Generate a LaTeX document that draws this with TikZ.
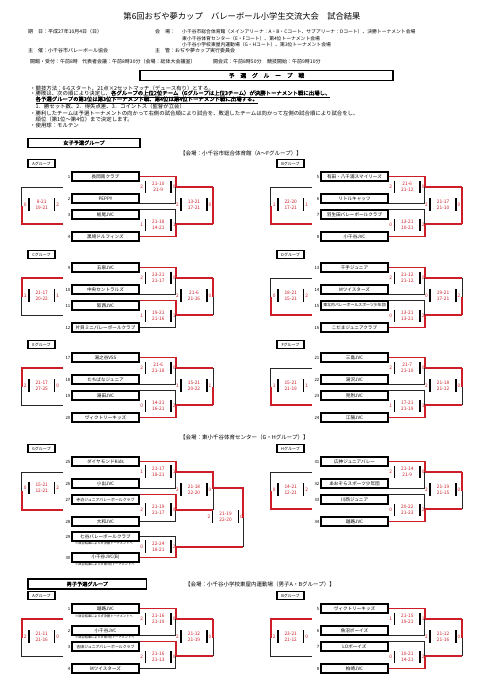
\documentclass[tikz,border=0pt]{standalone}
\usepackage{fontspec}
\setmainfont{Noto Sans CJK JP}[AutoFakeBold=1.5]
\usetikzlibrary{positioning}
\definecolor{rd}{RGB}{205,30,40}

\newcommand\fsz[1]{\fontsize{#1}{#1}\selectfont}
\newcommand\sm[1]{{\fsz{3.9}#1}}

% bracket pieces: prefix, style
\newcommand\sgua[2]{\draw[#2] (#11.east) -| (#1-m1);}
\newcommand\sgub[2]{\draw[#2] (#12.south east) -| (#1-m1);}
\newcommand\sgja[2]{\draw[#2] (#1-m1) -- (#1-f1);}
\newcommand\sglc[2]{\draw[#2] (#13.north east) -| (#1-m2);}
\newcommand\sgld[2]{\draw[#2] (#14.east) -| (#1-m2);}
\newcommand\sgjb[2]{\draw[#2] (#1-m2) -- (#1-f2);}
\newcommand\sgfu[2]{\draw[#2] (#1-f1) -- (#1-fm);}
\newcommand\sgfl[2]{\draw[#2] (#1-f2) -- (#1-fm);}
\newcommand\sglu[2]{\draw[#2] (#1-l1) -| (#1-lm);}
\newcommand\sgll[2]{\draw[#2] (#1-l2) -| (#1-lm);}
\newcommand\bracket[2]{%
  \foreach \s in {ua,ub,ja,lc,ld,jb,fu,fl,lu,ll}{\csname sg\s\endcsname{#1}{ln}}%
  \foreach \s in {#2}{\csname sg\s\endcsname{#1}{win}}}

% one group of four: prefix, label, first number, teams
\newcommand\grpfour[7]{%
  \node[grplbl] (#1lb) at (41.5,-8.5) {#2};
  \node[team] (#11) at (105.5,4.5) {#4};
  \node[team] (#12) at (105.5,26.5) {#5};
  \node[team] (#13) at (105.5,42.5) {#6};
  \node[team] (#14) at (105.5,64.5) {#7};
  \foreach \i/\y in {1/4.5,2/26.5,3/42.5,4/64.5}
    \node[num] (#1n\i) at (70.5,\y) {\number\numexpr#3+\i-1\relax};
  \coordinate (#1-m1) at (175.7,15);
  \coordinate (#1-m2) at (175.7,52);
  \coordinate (#1-f1) at (213.3,15);
  \coordinate (#1-f2) at (213.3,52);
  \coordinate (#1-fm) at (213.3,33.5);
  \coordinate (#1-l1) at (63,15);
  \coordinate (#1-l2) at (63,52);
  \coordinate (#1-lm) at (21.7,33.5);
}

% scores: name, x, y, set 1, set 2, left count, right count
\newcommand\res[7]{%
  \node[sc] (#1) at (#2,#3) {#4\\#5};
  \node[sc] (#1l) at ([xshift=-16.5pt]#1.center) {#6};
  \node[sc] (#1r) at ([xshift=16pt]#1.center) {#7};
  \draw[bar] (#1.center) ++(-12.8,-6.3) -- ++(0,12.6);
  \draw[bar] (#1.center) ++(12.8,-6.3) -- ++(0,12.6);}

\begin{document}
\begin{tikzpicture}[x=1pt, y=-1pt,
    team/.style={draw, line width=1.3pt, minimum width=67pt, minimum height=9pt,
                 inner sep=0pt, font=\fsz{4.6}},
    num/.style={anchor=east, inner sep=0pt, font=\fsz{4.3}},
    grplbl/.style={draw, line width=1.4pt, minimum width=27pt, minimum height=8pt,
                   inner sep=0pt, font=\fsz{4}},
    ln/.style={line width=0.9pt, draw=black!85},
    win/.style={draw=rd, line width=1.7pt},
    bar/.style={line width=1.5pt},
    sc/.style={text=rd, font=\fontsize{4.8}{6}\selectfont, align=center, inner sep=0pt},
    note/.style={anchor=west, inner sep=0pt, font=\fsz{3.2}},
    txt/.style={anchor=west, inner sep=0pt, font=\fsz{5}},
    rule/.style={anchor=west, inner sep=0pt, font=\fsz{5.4}},
    hbox/.style={draw, line width=1.3pt, inner sep=0pt, font=\bfseries\fsz{5.2}}
]
    \fill[white] (0,0) rectangle (480,685);
    \useasboundingbox (0,0) rectangle (480,685);

    % header
    \node[font=\fsz{8.3}] (title) at (242,16) {第6回おぢや夢カップ　バレーボール小学生交流大会　試合結果};
    \node[txt] (date) at (28,32) {期　日：平成27年10月4日（日）};
    \node[txt] (venue) at (155,32) {会　場：};
    \node[txt, font=\fsz{4.8}] (v1) at (182,32) {小千谷市総合体育館（メインアリーナ：A・B・Cコート、サブアリーナ：Dコート）、決勝トーナメント会場};
    \node[txt, font=\fsz{4.8}] (v2) at (182,38.5) {東小千谷体育センター（E・Fコート）、第4位トーナメント会場};
    \node[txt, font=\fsz{4.8}] (v3) at (182,45) {小千谷小学校東屋内運動場（G・Hコート）、第3位トーナメント会場};
    \node[txt] (host) at (28,51) {主　催：小千谷市バレーボール協会};
    \node[txt] (org) at (155,51) {主　管：おぢや夢カップ実行委員会};
    \node[txt] (open) at (30,61.5) {開館・受付：午前8時};
    \node[txt] (meet) at (82,61.5) {代表者会議：午前8時30分（会場：総体大会議室）};
    \node[txt] (cer) at (213,61.5) {開会式：午前8時50分};
    \node[txt] (start) at (267,61.5) {競技開始：午前9時10分};

    \node[hbox, minimum width=253pt, minimum height=10pt, font=\bfseries\fsz{5.8}] (prelim) at (266.5,75.5) {予　選　グ　ル　ー　プ　戦};

    % rules
    \node[rule] (r1) at (30,88) {・競技方法：6-6スタート、21点×2セットマッチ（デュース有り）とする。};
    \node[rule] (r2) at (30,94) {・勝敗は、次の順により決定し、\underline{\textbf{各グループの上位2位チーム（Gグループは上位3チーム）が決勝トーナメント戦に出場し、}}};
    \node[rule] (r3) at (30,100) {\phantom{・}\underline{\textbf{各予選グループの第3位は第3位トーナメント戦、第4位は第4位トーナメント戦に出場する。}}};
    \node[rule] (r4) at (30,106) {　1．勝セット数、2．得失点差、3．コイントス（監督が立会）};
    \node[rule] (r5) at (30,113.5) {・勝利したチームは予選トーナメントの向かって右側の試合順により試合を、敗退したチームは向かって左側の試合順により試合をし、};
    \node[rule] (r6) at (30,119.5) {　順位（第1位～第4位）まで決定します。};
    \node[rule] (r7) at (30,125.5) {・使用球：モルテン};

    % girls
    \node[hbox, minimum width=112pt, minimum height=9pt] (girls) at (84,142.8) {女子予選グループ};
    \node[txt, font=\fsz{5.5}] (gv1) at (180,153) {【会場：小千谷市総合体育館（A～Fグループ）】};

    \begin{scope}[shift={(0,172)}]
        \grpfour{A}{Aグループ}{1}{長岡南クラブ}{PEPPY}{栃尾JVC}{黒埼ドルフィンズ}
        \res{Aa}{158.3}{15}{21-10}{21-9}{2}{0}
        \res{Ab}{158.3}{53}{21-18}{14-21}{1}{1}
        \res{Af}{194}{32.5}{13-21}{17-21}{2}{0}
        \res{Al}{41.7}{32.5}{8-21}{19-21}{0}{2}
        \bracket{A}{ua,ja,ld,jb,fu,fl,ll}
    \end{scope}
    \begin{scope}[shift={(249,172)}]
        \grpfour{B}{Bグループ}{5}{有田・八千浦スマイリーズ}{リトルキャッツ}{羽生田バレーボールクラブ}{小千谷JVC}
        \res{Ba}{158.3}{15}{21-6}{21-12}{2}{0}
        \res{Bb}{158.3}{53}{13-21}{10-21}{0}{2}
        \res{Bf}{194}{32.5}{21-17}{21-10}{2}{0}
        \res{Bl}{41.7}{32.5}{22-20}{17-21}{1}{1}
        \bracket{B}{ua,ja,ld,jb,fu,fl,ll}
    \end{scope}
    \begin{scope}[shift={(0,263)}]
        \grpfour{C}{Cグループ}{9}{五泉JVC}{中央セントラルズ}{阪西JVC}{片貝ミニバレーボールクラブ}
        \res{Ca}{158.3}{15}{23-21}{21-17}{2}{0}
        \res{Cb}{158.3}{53}{19-21}{21-16}{1}{1}
        \res{Cf}{194}{32.5}{21-6}{21-16}{2}{0}
        \res{Cl}{41.7}{32.5}{21-17}{20-22}{1}{1}
        \bracket{C}{ua,ja,lc,jb,fu,lu}
    \end{scope}
    \begin{scope}[shift={(249,263)}]
        \grpfour{D}{Dグループ}{13}{千手ジュニア}{Mツイスターズ}{\sm{東北内バレーボールスポーツ少年団}}{こだまジュニアクラブ}
        \res{Da}{158.3}{15}{21-12}{21-12}{2}{0}
        \res{Db}{158.3}{53}{13-21}{13-21}{0}{2}
        \res{Df}{194}{32.5}{19-21}{17-21}{0}{2}
        \res{Dl}{41.7}{32.5}{18-21}{15-21}{0}{2}
        \bracket{D}{ua,ja,ld,jb,fl,ll}
    \end{scope}
    \begin{scope}[shift={(0,353)}]
        \grpfour{E}{Eグループ}{17}{湯之谷VSS}{たちばなジュニア}{湯田JVC}{ヴィクトリーキッズ}
        \res{Ea}{158.3}{15}{21-6}{21-18}{2}{0}
        \res{Eb}{158.3}{53}{14-21}{16-21}{0}{2}
        \res{Ef}{194}{32.5}{15-21}{20-22}{1}{1}
        \res{El}{41.7}{32.5}{21-17}{27-25}{2}{0}
        \bracket{E}{ua,ja,ld,jb,fl,lu}
    \end{scope}
    \begin{scope}[shift={(249,353)}]
        \grpfour{F}{Fグループ}{21}{三島JVC}{湯沢JVC}{見附JVC}{江陽JVC}
        \res{Fa}{158.3}{15}{21-7}{21-10}{2}{0}
        \res{Fb}{158.3}{53}{17-21}{21-19}{1}{1}
        \res{Ff}{194}{32.5}{21-18}{21-12}{2}{0}
        \res{Fl}{41.7}{32.5}{15-21}{21-19}{1}{1}
        \bracket{F}{ua,ja,ld,jb,fu,ll}
    \end{scope}

    \node[txt, font=\fsz{5.5}] (gv2) at (180,437.5) {【会場：東小千谷体育センター（G・Hグループ）】};

    % G group, six teams
    \begin{scope}[shift={(0,457)}]
        \node[grplbl] (Glb) at (41.5,-8.5) {Gグループ};
        \node[team] (G1) at (105.5,4.5) {ダイヤモンドKids};
        \node[team] (G2) at (105.5,26.5) {小出JVC};
        \node[team] (G3) at (105.5,42.5) {\sm{寺泊ジュニアバレーボールクラブ}};
        \node[team] (G4) at (105.5,64.5) {大和JVC};
        \node[team] (G5) at (105.5,79.5) {七谷バレーボールクラブ};
        \node[team] (G6) at (105.5,100.5) {小千谷JVC(B)};
        \foreach \i/\y in {1/4.5,2/26.5,3/42.5,4/64.5,5/79.5,6/100.5}
            \node[num] (Gn\i) at (70.5,\y) {\number\numexpr\i+24\relax};
        \node[note] (Gx5) at (75,86.5) {※試合結果によらず決勝トーナメントへ};
        \node[note] (Gx6) at (75,107.5) {※試合結果によらず第3位トーナメントへ};
        \coordinate (G-m1) at (175.7,15);
        \coordinate (G-m2) at (175.7,53);
        \coordinate (G-s1) at (213.3,15);
        \coordinate (G-s2) at (213.3,53);
        \coordinate (G-sm) at (213.3,31.3);
        \coordinate (G-m3) at (175.7,89.7);
        \coordinate (G-f1) at (243,31.3);
        \coordinate (G-f2) at (243,89.7);
        \coordinate (G-fm) at (243,60.5);
        \coordinate (G-l1) at (63,15);
        \coordinate (G-l2) at (63,53);
        \coordinate (G-lm) at (21.7,34);
        \res{Ga}{158.3}{14.7}{21-17}{18-21}{1}{1}
        \res{Gb}{158.3}{52.7}{21-19}{21-17}{2}{0}
        \res{Gs}{194}{32.7}{21-18}{22-20}{2}{0}
        \res{Gc}{158.3}{89.3}{22-24}{18-21}{0}{2}
        \res{Gf}{225.5}{59.3}{21-19}{22-20}{2}{0}
        \res{Gl}{41.7}{31}{15-21}{12-21}{0}{2}
        \draw[ln] (G2.south east) -| (G-m1);
        \draw[ln] (G4.east) -| (G-m2);
        \draw[ln] (G-s2) -- (G-sm);
        \draw[ln] (G5.east) -| (G-m3);
        \draw[ln] (G-f2) -- (G-fm);
        \draw[ln] (G-l1) -| (G-lm);
        \draw[win] (G1.east) -| (G-m1) -- (G-s1) -- (G-sm) -- (G-f1) -- (G-fm);
        \draw[win] (G3.north east) -| (G-m2) -- (G-s2);
        \draw[win] (G6.east) -| (G-m3) -- (G-f2);
        \draw[win] (G-l2) -| (G-lm);
    \end{scope}
    \begin{scope}[shift={(249,457)}]
        \grpfour{H}{Hグループ}{31}{広神ジュニアバレー}{あおぞらスポーツ少年団}{川西ジュニア}{越路JVC}
        \res{Ha}{158.3}{15}{21-14}{21-9}{2}{0}
        \res{Hb}{158.3}{53}{20-22}{21-23}{0}{2}
        \res{Hf}{194}{32.5}{21-19}{21-15}{2}{0}
        \res{Hl}{41.7}{32.5}{14-21}{12-21}{0}{2}
        \bracket{H}{ua,ja,ld,jb,fu,ll}
    \end{scope}

    % boys
    \node[hbox, minimum width=118.7pt, minimum height=10pt] (boys) at (87.3,584) {男子予選グループ};
    \node[txt, font=\fsz{5.5}] (bv) at (185,584) {【会場：小千谷小学校東屋内運動場（男子A・Bグループ）】};

    \begin{scope}[shift={(0,604)}]
        \grpfour{P}{Aグループ}{1}{越路JVC}{小千谷JVC}{\sm{吉田ジュニアバレーボールクラブ}}{Mツイスターズ}
        \node[note] (Px1) at (75,12.7) {※試合結果によらず決勝トーナメントへ};
        \node[note] (Px2) at (75,33) {※試合結果によらず第3位トーナメントへ};
        \res{Pa}{158.3}{15}{21-16}{21-19}{2}{0}
        \res{Pb}{158.3}{53}{21-16}{21-13}{2}{0}
        \res{Pf}{194}{32.5}{21-12}{21-19}{2}{0}
        \res{Pl}{41.7}{32.5}{21-11}{21-16}{2}{0}
        \bracket{P}{ua,ja,lc,jb,fu,lu}
    \end{scope}
    \begin{scope}[shift={(249,604)}]
        \grpfour{Q}{Bグループ}{5}{ヴィクトリーキッズ}{魚沼ボーイズ}{LOボーイズ}{柏崎JVC}
        \res{Qa}{158.3}{15}{21-15}{19-21}{1}{1}
        \res{Qb}{158.3}{53}{10-21}{14-21}{0}{2}
        \res{Qf}{194}{32.5}{21-12}{21-16}{2}{0}
        \res{Ql}{41.7}{32.5}{23-21}{21-12}{2}{0}
        \bracket{Q}{ua,ja,ld,jb,fu,lu}
    \end{scope}
\end{tikzpicture}
\end{document}
